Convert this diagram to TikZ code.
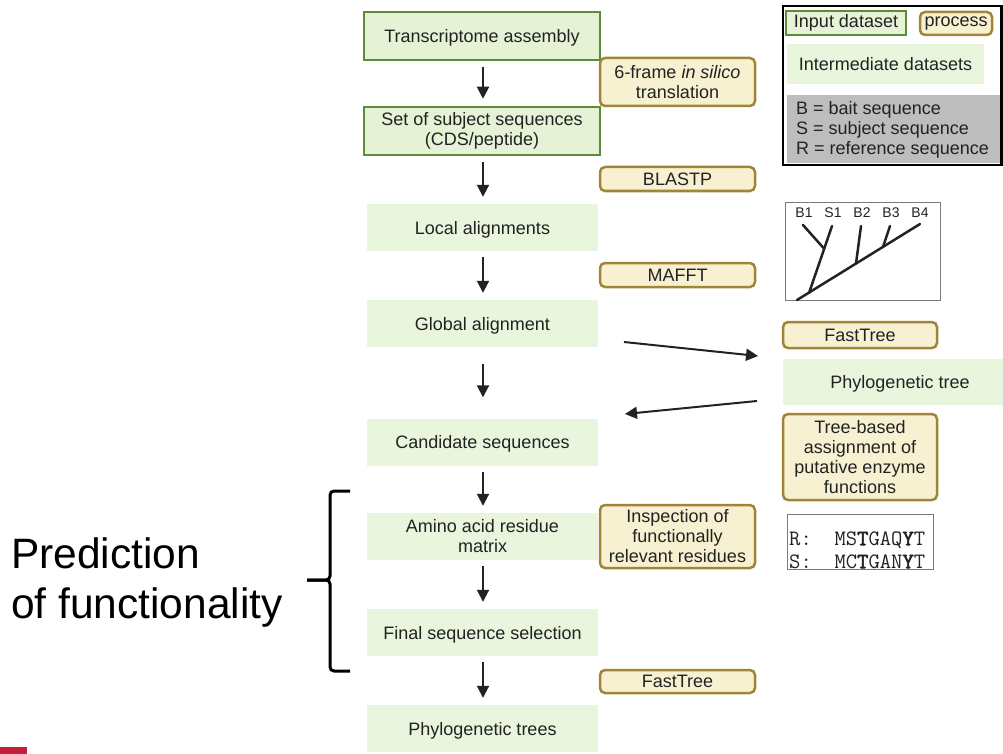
\documentclass[tikz,border=0pt]{standalone}
\usepackage{fontspec}
\setmainfont{Liberation Sans}
\newfontfamily\seqmono{Latin Modern Mono}[BoldFont=Latin Modern Mono, BoldFeatures={FakeBold=2.5}]
\usetikzlibrary{arrows.meta}
\definecolor{inborder}{HTML}{5E8A3C}
\definecolor{infill}{HTML}{E6F2D5}
\definecolor{midfill}{HTML}{E9F5DC}
\definecolor{procborder}{HTML}{A08538}
\definecolor{procfill}{HTML}{F7F1D2}
\definecolor{txt}{HTML}{222222}
\definecolor{legendgray}{HTML}{BDBDBD}
\definecolor{framegray}{HTML}{7A7A7A}
\definecolor{accent}{HTML}{C41E3A}
\begin{document}
\begin{tikzpicture}[x=1pt,y=-1pt,
  every node/.style={font=\fontsize{18}{20}\selectfont, text=txt, inner sep=0pt, align=center},
  inputbox/.style={draw=inborder, fill=infill, line width=2.5pt, minimum width=236pt, minimum height=48pt, inner ysep=0pt},
  midbox/.style={fill=midfill, minimum width=231pt, minimum height=47pt},
  procbox/.style={draw=procborder, fill=procfill, line width=2.5pt, rounded corners=5pt, minimum width=155pt},
  flow/.style={line width=2pt, draw=txt, -{Triangle[length=12pt,width=12pt]}, shorten <=6pt, shorten >=7pt},
  treeline/.style={line width=2.5pt, line cap=round, draw=txt},
  leaf/.style={font=\fontsize{14}{15}\selectfont},
  bracket/.style={line width=3pt, draw=black, rounded corners=4pt},
  lower/.style={text depth=0pt},
]
\useasboundingbox (0,0) rectangle (1003,754);

% main workflow column
\node[inputbox, lower] (ta) at (482,36) {Transcriptome assembly};
\node[inputbox] (ss) at (482,131) {Set of subject sequences\\(CDS/peptide)};
\node[midbox, lower] (la) at (482.5,227.5) {Local alignments};
\node[midbox, lower] (ga) at (482.5,323.5) {Global alignment};
\node[midbox, lower] (cs) at (482.5,442) {Candidate sequences};
\node[midbox] (aa) at (482.5,536.5) {Amino acid residue\\matrix};
\node[midbox, lower] (fs) at (482.5,632.5) {Final sequence selection};
\node[midbox, lower] (pt) at (482.5,728.5) {Phylogenetic trees};

\draw[flow] (ta.south -| 483,0) -- (ss.north -| 483,0);
\draw[flow] (ss.south -| 483,0) -- (la.north -| 483,0);
\draw[flow] (la.south -| 483,0) -- (ga.north -| 483,0);
\draw[flow, shorten <=17pt, shorten >=21pt] (ga.south -| 483,0) -- (cs.north -| 483,0);
\draw[flow] (cs.south -| 483,0) -- (aa.north -| 483,0);
\draw[flow] (aa.south -| 483,0) -- (fs.north -| 483,0);
\draw[flow] (fs.south -| 483,0) -- (pt.north -| 483,0);

% processing steps
\node[procbox, minimum height=48pt] (p1) at (677.5,82) {6-frame \textit{in silico}\\translation};
\node[procbox, minimum height=24pt, lower] (p2) at (677.5,179) {BLASTP};
\node[procbox, minimum height=24pt, lower] (p3) at (677.5,275) {MAFFT};
\node[procbox, minimum height=26pt, minimum width=154pt, lower] (p4) at (860,335) {FastTree};
\node[fill=midfill, minimum width=220pt, minimum height=46pt, lower] (tree) at (893,382) {\hspace*{14pt}Phylogenetic tree};
\node[procbox, minimum height=86pt, minimum width=154pt] (p5) at (860,457) {Tree-based\\assignment of\\putative enzyme\\functions};
\node[procbox, minimum height=63pt] (p6) at (677.5,536.5) {Inspection of\\functionally\\relevant residues};
\node[procbox, minimum height=23pt, lower] (p7) at (677.5,681.5) {FastTree};

% side branch through the tree
\coordinate (b1s) at (624,342);
\coordinate (b1e) at (758,356);
\coordinate (b2s) at (757,401);
\coordinate (b2e) at (625,414);
\draw[flow, shorten <=0pt, shorten >=0pt] (b1s) -- (b1e);
\draw[flow, shorten <=0pt, shorten >=0pt] (b2s) -- (b2e);

% legend
\draw[line width=2.5pt, draw=black] (783,6) rectangle (1001.5,165);
\node[draw=inborder, fill=infill, line width=2.5pt, minimum width=120pt, minimum height=24pt] (lin) at (846,23) {Input dataset};
\node[procbox, minimum width=72pt, minimum height=23pt] (lpr) at (956,23.5) {\raisebox{-2pt}{process}};
\node[fill=midfill, minimum width=197pt, minimum height=40pt, lower] (lmid) at (885.5,64) {Intermediate datasets};
\node[fill=legendgray, minimum width=213pt, minimum height=68pt] (lgray) at (893.5,129) {};
\node[anchor=west, align=left] (labbr) at (796,130) {B = bait sequence\\S = subject sequence\\R = reference sequence};

% example tree
\draw[draw=framegray, line width=1pt] (785,202) rectangle (940,300);
\node[leaf] (lb1) at (804,213) {B1};
\node[leaf] (ls1) at (833,213) {S1};
\node[leaf] (lb2) at (862,213) {B2};
\node[leaf] (lb3) at (891,213) {B3};
\node[leaf] (lb4) at (920,213) {B4};
\draw[treeline] (797,300) -- (920,224);
\draw[treeline] (832,226) -- (809,293);
\draw[treeline] (803,225) -- (823.5,248);
\draw[treeline] (861,226) -- (856,263.5);
\draw[treeline] (890,226) -- (883,247);

% residue comparison
\draw[draw=framegray, line width=1pt] (787,514) rectangle (933,569);
\node[anchor=west, align=left, font=\seqmono\fontsize{22}{23}\selectfont] (seq) at (789,550)
  {R:\ \ MS\textbf{T}GAQ\textbf{Y}T\\S:\ \ MC\textbf{T}GAN\textbf{Y}T};

% prediction bracket
\draw[bracket] (350,491) -- (330,491) -- (330,580) -- (307,580);
\draw[bracket] (350,671) -- (330,671) -- (330,580) -- (307,580);
\node[anchor=west, align=left, font=\fontsize{42.5}{50}\selectfont, text=black] (pred) at (11,583) {Prediction\\of functionality};

% corner mark
\fill[accent] (0,747) rectangle (27,754);
\end{tikzpicture}
\end{document}
